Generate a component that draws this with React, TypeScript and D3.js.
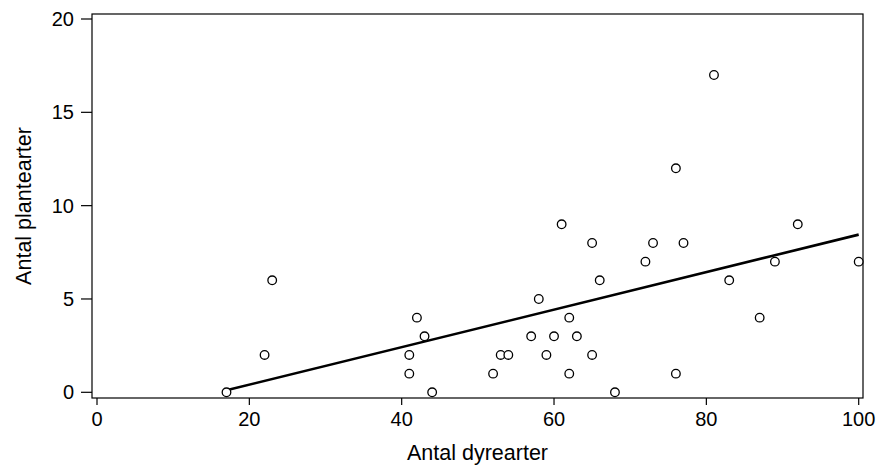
import React from "react";
import * as d3 from "d3";

const dyrearter = [17, 22, 23, 41, 41, 42, 43, 44, 52, 53, 54, 57, 58, 59, 60, 61, 62, 62, 63, 65, 65, 66, 68, 72, 73, 76, 76, 77, 81, 83, 87, 89, 92, 100];
const plantearter = [0, 2, 6, 2, 1, 4, 3, 0, 1, 2, 2, 3, 5, 2, 3, 9, 4, 1, 3, 8, 2, 6, 0, 7, 8, 12, 1, 8, 17, 6, 4, 7, 9, 7];
const xTicks = [0, 20, 40, 60, 80, 100];
const yTicks = [0, 5, 10, 15, 20];
const xTitle = "Antal dyrearter";
const yTitle = "Antal plantearter";

export default function App() {
  const W = 884, H = 466;
  const frame = { left: 92, right: 863, top: 14, bottom: 398 };
  const x = d3.scaleLinear().domain([0, 100]).range([97, 858.7]);
  const y = d3.scaleLinear().domain([0, 20]).range([392.3, 19]);
  const fs = 20;
  const tfs = 21.5;
  const font = "'Liberation Sans', Arial, sans-serif";

  const n = dyrearter.length;
  const mx = d3.mean(dyrearter) as number;
  const my = d3.mean(plantearter) as number;
  let sxy = 0, sxx = 0;
  for (let i = 0; i < n; i++) {
    sxy += (dyrearter[i] - mx) * (plantearter[i] - my);
    sxx += (dyrearter[i] - mx) ** 2;
  }
  const b = sxy / sxx;
  const a = my - b * mx;
  const [x0, x1] = d3.extent(dyrearter) as [number, number];
  const fit = [[x0, a + b * x0], [x1, a + b * x1]] as [number, number][];
  const line = d3.line<[number, number]>().x(d => x(d[0])).y(d => y(d[1]));

  return (
    <svg width={W} height={H} style={{ position: "absolute", left: 0, top: 0, background: "#fff" }} fontFamily={font}>
      <rect x={0} y={0} width={W} height={H} fill="#fff" />
      <rect x={frame.left} y={frame.top} width={frame.right - frame.left} height={frame.bottom - frame.top} fill="none" stroke="#000" strokeWidth={1.2} />
      {yTicks.map(t => (
        <g key={"y" + t}>
          <line x1={81} x2={frame.left} y1={y(t)} y2={y(t)} stroke="#000" strokeWidth={1.2} />
          <text x={74} y={y(t) + 7} textAnchor="end" fontSize={fs} fill="#000">{t}</text>
        </g>
      ))}
      {xTicks.map(t => (
        <g key={"x" + t}>
          <line x1={x(t)} x2={x(t)} y1={frame.bottom} y2={frame.bottom + 7} stroke="#000" strokeWidth={1.2} />
          <text x={x(t)} y={426} textAnchor="middle" fontSize={fs} fill="#000">{t}</text>
        </g>
      ))}
      <text x={(frame.left + frame.right) / 2} y={460} textAnchor="middle" fontSize={tfs} fill="#000">{xTitle}</text>
      <text transform={`translate(31,${(frame.top + frame.bottom) / 2}) rotate(-90)`} textAnchor="middle" fontSize={tfs} fill="#000">{yTitle}</text>
      <path d={line(fit) as string} fill="none" stroke="#000" strokeWidth={2.6} />
      {dyrearter.map((d, i) => (
        <circle key={i} cx={x(d)} cy={y(plantearter[i])} r={4.3} fill="#fff" stroke="#000" strokeWidth={1.3} />
      ))}
    </svg>
  );
}
